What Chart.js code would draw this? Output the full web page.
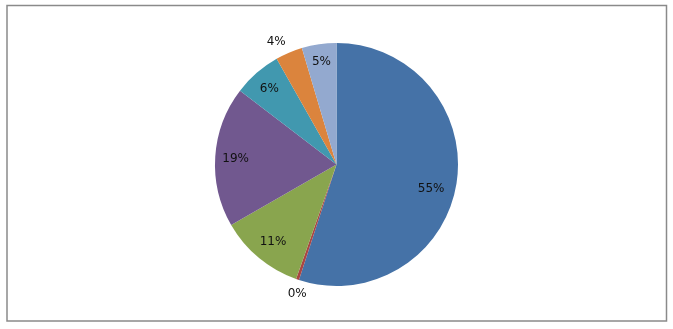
<!DOCTYPE html>
<html>
<head>
<meta charset="utf-8">
<script src="https://cdn.jsdelivr.net/npm/chart.js@4"></script>
<style>
html,body{margin:0;padding:0;background:#fff;}
#wrap{width:673px;height:329px;position:relative;}
</style>
</head>
<body>
<div id="wrap"><canvas id="c" width="673" height="329"></canvas></div>
<script>
const categories = ["A", "B", "C", "D", "E", "F", "G"];
const values = [55.0, 0.4, 11.3, 18.7, 6.4, 3.6, 4.6];
const labels = ["55%", "0%", "11%", "19%", "6%", "4%", "5%"];
const colors = ["#4572A7", "#AA4643", "#89A54E", "#71588F", "#4198AF", "#DB843D", "#93A9CF"];
const labelRadius = [0.78, 1.11, 0.83, 0.84, 0.83, 1.1, 0.86];
const labelNudge = [[1, 10], [4, 2], [1, 0], [1, 1], [-1, 0], [-8, 0], [0, 1]];

const frame = {
  id: 'frame',
  beforeDraw(chart) {
    const ctx = chart.ctx;
    ctx.save();
    ctx.fillStyle = '#fff';
    ctx.fillRect(0, 0, chart.width, chart.height);
    ctx.strokeStyle = '#8a8a8a';
    ctx.lineWidth = 1.5;
    ctx.strokeRect(7, 5.5, 659.5, 315.5);
    ctx.restore();
  }
};

const pieLabels = {
  id: 'pieLabels',
  afterDatasetsDraw(chart) {
    const ctx = chart.ctx;
    const meta = chart.getDatasetMeta(0);
    ctx.save();
    ctx.font = '12px "DejaVu Sans"';
    ctx.fillStyle = '#111';
    ctx.textAlign = 'center';
    ctx.textBaseline = 'middle';
    meta.data.forEach((arc, i) => {
      const p = arc.getProps(['x', 'y', 'startAngle', 'endAngle', 'outerRadius'], true);
      const mid = (p.startAngle + p.endAngle) / 2;
      const r = p.outerRadius * labelRadius[i];
      ctx.fillText(labels[i], p.x + Math.cos(mid) * r + labelNudge[i][0], p.y + Math.sin(mid) * r + labelNudge[i][1]);
    });
    ctx.restore();
  }
};

new Chart(document.getElementById('c'), {
  type: 'pie',
  data: {
    labels: categories,
    datasets: [{
      data: values,
      backgroundColor: colors,
      borderWidth: 0
    }]
  },
  options: {
    responsive: false,
    animation: false,
    layout: { padding: { top: 43, bottom: 43, left: 0, right: 0 } },
    plugins: {
      legend: { display: false },
      tooltip: { enabled: false }
    }
  },
  plugins: [frame, pieLabels]
});
</script>
</body>
</html>
